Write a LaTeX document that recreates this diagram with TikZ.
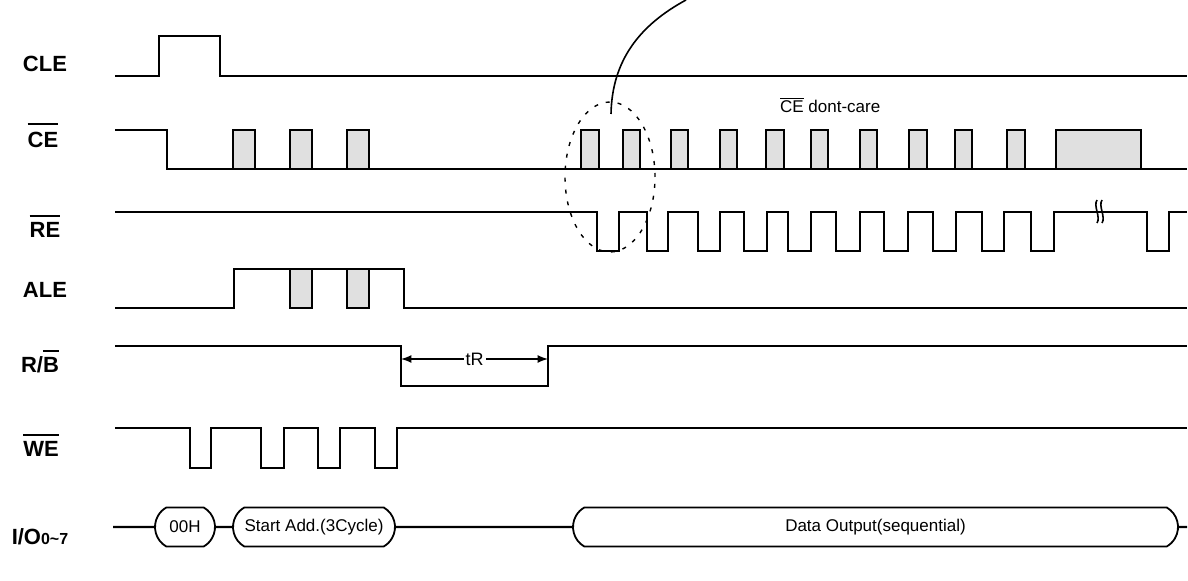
\documentclass[tikz,border=0pt]{standalone}
\usepackage{fontspec}
\setmainfont{Liberation Sans}
\usetikzlibrary{arrows,shapes.geometric,shapes.misc}
\definecolor{dcgray}{RGB}{224,224,224}
\newcommand{\barred}[2][3pt]{\setbox0\hbox{#2}\rlap{\rule[\dimexpr\ht0+#1\relax]{\wd0}{0.09em}}\box0\relax}

\begin{document}
\begin{tikzpicture}[x=0.5pt,y=-0.5pt,line width=1.1pt,>=latex,
  pulse/.style={draw,fill=dcgray},
  signame/.style={anchor=base,inner sep=0pt,font=\fontsize{11}{13}\selectfont\bfseries},
  iobox/.style={draw,rounded rectangle,rounded rectangle arc length=120,
    minimum height=19.5pt,inner sep=0pt,line width=0.9pt,font=\fontsize{8.5}{10}\selectfont}]
\useasboundingbox (0,0) rectangle (1188,581);

% signal names
\node[signame] (cle) at (45,72) {CLE};
\node[signame] (ce) at (43,148) {\barred[4pt]{CE}};
\node[signame] (re) at (45,238) {\barred{RE}};
\node[signame] (ale) at (45,298) {ALE};
\node[signame] (rb) at (40,373) {R/\barred{B}};
\node[signame] (we) at (41,457) {\barred{WE}};
\node[signame] (io) at (40,545) {I/O{\fontsize{8}{10}\selectfont 0\textasciitilde 7}};

% CLE
\draw (115,76) -- (159,76) -- (159,36) -- (220,36) -- (220,76) -- (1187,76);

% CE
\foreach \a/\b in {233/255,290/312,347/369,581/599,623/640,671/688,720/737,
                   766/784,811/828,860/877,909/927,955/972,1007/1025,1056/1141}
  \draw[pulse] (\a,169) rectangle (\b,130);
\draw (115,130) -- (167,130) -- (167,169) -- (1187,169);
\node[anchor=base west,inner sep=0pt,font=\fontsize{8.5}{10}\selectfont] (dc) at (779,113) {\barred[1pt]{CE} dont-care};

% RE
\draw (115,212) foreach \a/\b in {597/619,647/668,698/720,744/767,788/811,836/860,
                                  884/908,933/956,982/1004,1031/1054,1147/1169}
  { -- (\a,212) -- (\a,251) -- (\b,251) -- (\b,212) } -- (1187,212);
\draw[line width=0.8pt] (1097,200) .. controls (1093,206) and (1101,217) .. (1097,223)
                        (1102,200) .. controls (1098,206) and (1106,217) .. (1102,223);

% ALE
\foreach \a/\b in {290/312,347/369}
  \draw[pulse] (\a,308) rectangle (\b,269);
\draw (115,308) -- (234,308) -- (234,269) -- (404,269) -- (404,308) -- (1187,308);

% R/B
\draw (115,346) -- (401,346) -- (401,386) -- (548,386) -- (548,346) -- (1187,346);
\coordinate (busy) at (401,359);
\coordinate (ready) at (548,359);
\draw[<->,line width=0.8pt] (busy) -- node[fill=white,inner sep=1pt,font=\fontsize{9}{10}\selectfont] (tr) {tR} (ready);

% WE
\draw (115,428) foreach \a/\b in {190/211,261/284,318/340,375/397}
  { -- (\a,428) -- (\a,468) -- (\b,468) -- (\b,428) } -- (1187,428);

% I/O
\coordinate (iol) at (113,527);
\coordinate (ior) at (1187,527);
\node[iobox,minimum width=30pt] (cmd) at (185,527) {00H};
\node[iobox,minimum width=81pt] (addr) at (314,527) {Start Add.(3Cycle)};
\node[iobox,minimum width=302.5pt] (data) at (875.5,527) {Data Output(sequential)};
\draw (iol) -- (cmd) -- (addr) -- (data) -- (ior);

% dont-care callout
\node[draw,ellipse,line width=0.7pt,dash pattern=on 2pt off 4pt,
      minimum width=45pt,minimum height=75pt,inner sep=0pt] (grp) at (610,177) {};
\coordinate (pick) at (611,114);
\coordinate (callout) at (686,0);
\draw[line width=0.8pt] (pick) .. controls (612,60) and (640,25) .. (callout);
\end{tikzpicture}
\end{document}
